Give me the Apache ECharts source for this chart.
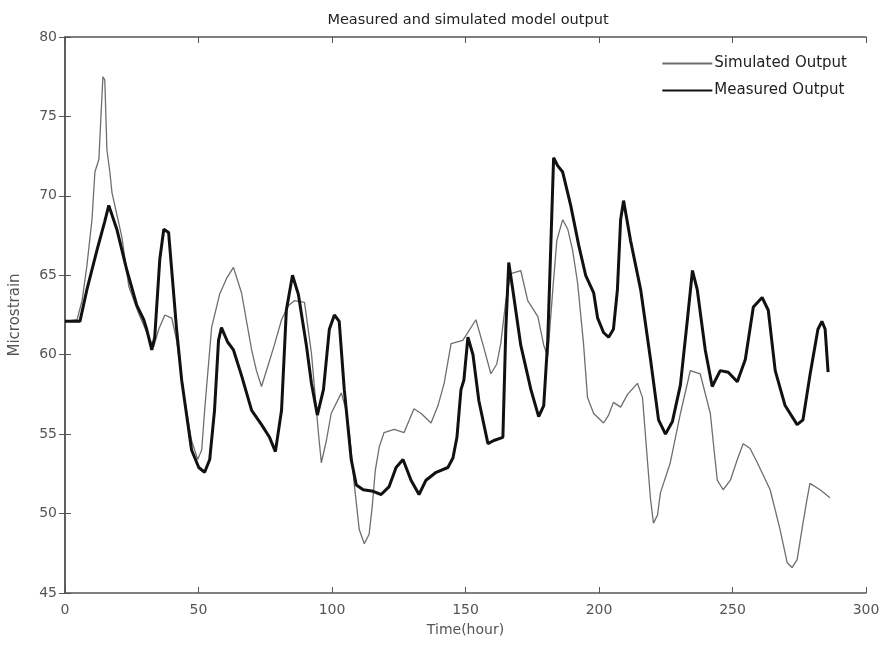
<!doctype html>
<html lang="en">
<head>
    <meta charset="UTF-8">
    <script src="https://cdn.jsdelivr.net/npm/echarts@6/dist/echarts.min.js"></script>
    <title>Measured and simulated model output</title>
</head>
<body style="margin:0;background:#fff;">
<div id="main" style="width: 884px;height:645px;"></div>
<script>
    // simulated output (thin grey line)
    var simHours = [0, 4.5, 6.4, 8.2, 10.1, 11.2, 12.7, 13.4, 14.2, 14.9, 15.7, 16.8, 17.6, 21.3, 23.9, 27.6,
        31.4, 33.2, 35.1, 37.4, 40.0, 41.8, 44.5, 47.4, 49.7, 51.2, 52.3, 54.9, 57.9, 60.5, 63.1, 66.1,
        69.9, 71.7, 73.6, 76.2, 78.4, 81.1, 83.7, 85.9, 89.7, 92.3, 94.9, 96.0, 97.9, 99.7, 103.5, 105.3,
        106.5, 108.3, 110.2, 112.1, 113.9, 115.1, 116.2, 117.7, 119.5, 123.3, 127.0, 130.7, 133.4, 137.1,
        139.7, 142.0, 144.6, 149.0, 153.9, 156.6, 159.5, 161.7, 163.2, 165.1, 167.0, 170.7, 173.3, 177.1,
        179.3, 180.8, 182.7, 184.2, 186.4, 188.3, 190.1, 192.0, 194.2, 195.7, 198.0, 201.7, 203.6, 205.4,
        208.1, 210.7, 214.4, 216.3, 218.2, 219.3, 220.4, 221.9, 223.0, 226.7, 230.5, 234.2, 237.9, 241.7,
        243.1, 244.3, 246.5, 249.2, 251.8, 254.0, 256.6, 259.3, 264.1, 267.8, 270.5, 272.3, 274.2, 276.4,
        277.9, 279.0, 282.8, 286.5];
    var simValues = [62.1, 62.2, 63.4, 65.6, 68.5, 71.5, 72.3, 74.8, 77.5, 77.3, 72.9, 71.5, 70.2, 67.4, 64.3, 62.6,
        61.1, 60.5, 61.6, 62.5, 62.3, 60.9, 57.5, 54.6, 53.4, 54.0, 56.5, 61.7, 63.8, 64.8, 65.5, 63.9,
        60.3, 59.0, 58.0, 59.4, 60.6, 62.2, 63.1, 63.4, 63.3, 60.1, 55.1, 53.2, 54.6, 56.3, 57.6, 56.5,
        55.1, 51.9, 49.0, 48.1, 48.7, 50.5, 52.7, 54.2, 55.1, 55.3, 55.1, 56.6, 56.3, 55.7,
        56.8, 58.2, 60.7, 60.9, 62.2, 60.6, 58.8, 59.4, 60.7, 63.4, 65.1, 65.3, 63.4, 62.4,
        60.6, 59.9, 64.1, 67.2, 68.5, 67.9, 66.6, 64.5, 60.7, 57.3, 56.3, 55.7, 56.2, 57.0,
        56.7, 57.5, 58.2, 57.3, 53.2, 50.9, 49.4, 49.9, 51.3, 53.2, 56.3, 59.0, 58.8, 56.3,
        54.0, 52.1, 51.5, 52.1, 53.4, 54.4, 54.1, 53.2, 51.5, 49.0, 46.9, 46.6, 47.1, 49.4,
        50.9, 51.9, 51.5, 51.0];

    // measured output (thick black line)
    var measHours = [0, 5.6, 8.2, 12.0, 14.9, 16.4, 19.4, 23.2, 26.9, 29.5, 30.6, 32.5, 33.6, 35.5, 37.0, 38.8,
        41.8, 43.7, 47.4, 50.1, 52.3, 54.2, 56.0, 57.5, 58.6, 60.9, 63.1, 66.1, 69.9, 73.6, 76.6, 78.8,
        81.1, 82.9, 85.2, 87.4, 90.4, 92.3, 94.5, 96.8, 99.0, 100.9, 102.7, 104.6, 107.2, 109.1, 111.7,
        115.4, 118.4, 121.4, 124.0, 126.6, 129.6, 132.6, 135.2, 139.0, 143.4, 145.3, 146.8, 148.3, 149.4,
        150.9, 152.8, 155.0, 158.4, 160.6, 164.0, 165.1, 166.2, 167.7, 170.7, 174.5, 177.4, 179.3, 180.8,
        181.9, 183.0, 184.5, 186.4, 189.4, 192.4, 195.0, 196.9, 198.0, 199.5, 201.7, 203.6, 205.4, 206.9,
        208.1, 209.2, 211.8, 215.6, 219.3, 222.3, 224.9, 227.5, 230.5, 233.1, 235.0, 236.8, 239.8, 242.4,
        245.4, 248.4, 251.8, 254.8, 257.8, 261.1, 263.4, 266.0, 269.7, 274.2, 276.4, 279.0, 282.0, 283.5,
        284.7, 285.8];
    var measValues = [62.1, 62.1, 64.1, 66.6, 68.4, 69.4, 67.9, 65.3, 63.1, 62.2, 61.6, 60.3, 61.1, 66.0, 67.9, 67.7,
        61.6, 58.4, 54.0, 52.9, 52.6, 53.4, 56.5, 60.9, 61.7, 60.8, 60.3, 58.7, 56.5, 55.6, 54.8, 53.9,
        56.5, 62.8, 65.0, 63.8, 60.6, 58.2, 56.2, 57.8, 61.6, 62.5, 62.1, 57.8, 53.4, 51.8, 51.5,
        51.4, 51.2, 51.7, 52.9, 53.4, 52.1, 51.2, 52.1, 52.6, 52.9, 53.5, 54.8, 57.8, 58.4,
        61.1, 60.0, 57.1, 54.4, 54.6, 54.8, 61.6, 65.8, 64.1, 60.6, 57.8, 56.1, 56.8, 60.9,
        66.6, 72.4, 71.9, 71.5, 69.4, 66.9, 65.0, 64.3, 63.9, 62.3, 61.4, 61.1, 61.6, 64.1,
        68.5, 69.7, 67.2, 64.1, 59.7, 55.9, 55.0, 55.8, 58.1, 62.2, 65.3, 64.1, 60.3, 58.0,
        59.0, 58.9, 58.3, 59.7, 63.0, 63.6, 62.8, 59.0, 56.8, 55.6, 55.9, 58.7, 61.6, 62.1,
        61.6, 58.9];

    var seriesNames = ['Simulated Output', 'Measured Output'];

    function pairs(xs, ys) {
        var out = [];
        for (var i = 0; i < xs.length; i++) {
            out.push([xs[i], ys[i]]);
        }
        return out;
    }

    var myChart = echarts.init(document.getElementById('main'));
    var font = 'DejaVu Sans, sans-serif';
    var axisLine = {show: true, lineStyle: {color: '#555', width: 1.5}};
    var tick = {show: true, inside: true, length: 6, lineStyle: {color: '#555'}};

    var option = {
        backgroundColor: '#fff',
        animation: false,
        title: {
            text: 'Measured and simulated model output',
            left: 463,
            top: 8,
            textAlign: 'center',
            textStyle: {fontFamily: font, fontSize: 14.5, fontWeight: 'normal', color: '#222'}
        },
        legend: {
            data: seriesNames,
            orient: 'vertical',
            right: 32,
            top: 51,
            itemWidth: 50,
            itemHeight: 12,
            itemGap: 12,
            itemStyle: {color: 'rgba(0,0,0,0)', borderColor: 'rgba(0,0,0,0)', borderWidth: 0},
            textStyle: {fontFamily: font, fontSize: 15, color: '#222', padding: [0, 0, 0, -3]}
        },
        grid: {left: 63, right: 18, top: 37, bottom: 52, containLabel: false},
        xAxis: [
            {
                type: 'value', min: 0, max: 300, interval: 50,
                name: 'Time(hour)', nameLocation: 'middle', nameGap: 30,
                nameTextStyle: {fontFamily: font, fontSize: 14, color: '#555'},
                axisLine: axisLine, axisTick: tick, splitLine: {show: false},
                axisLabel: {fontFamily: font, fontSize: 14, color: '#555', margin: 10}
            },
            {
                type: 'value', min: 0, max: 300, interval: 50, position: 'top',
                axisLine: axisLine, axisTick: tick, splitLine: {show: false},
                axisLabel: {show: false}
            }
        ],
        yAxis: [
            {
                type: 'value', min: 45, max: 80, interval: 5,
                name: 'Microstrain', nameLocation: 'middle', nameGap: 42,
                nameTextStyle: {fontFamily: font, fontSize: 15, color: '#555'},
                axisLine: axisLine, axisTick: tick, splitLine: {show: false},
                axisLabel: {fontFamily: font, fontSize: 14, color: '#555', margin: 8}
            },
            {
                type: 'value', min: 45, max: 80, interval: 5, position: 'right',
                axisLine: axisLine, axisTick: tick, splitLine: {show: false},
                axisLabel: {show: false}
            }
        ],
        series: [
            {
                name: seriesNames[0],
                type: 'line',
                symbol: 'none',
                data: pairs(simHours, simValues),
                lineStyle: {color: '#6e6e6e', width: 1.3},
                itemStyle: {color: '#6e6e6e'},
                z: 2
            },
            {
                name: seriesNames[1],
                type: 'line',
                symbol: 'none',
                data: pairs(measHours, measValues),
                lineStyle: {color: '#111', width: 3},
                itemStyle: {color: '#111'},
                z: 3
            }
        ]
    };

    myChart.setOption(option);
</script>
</body>
</html>
